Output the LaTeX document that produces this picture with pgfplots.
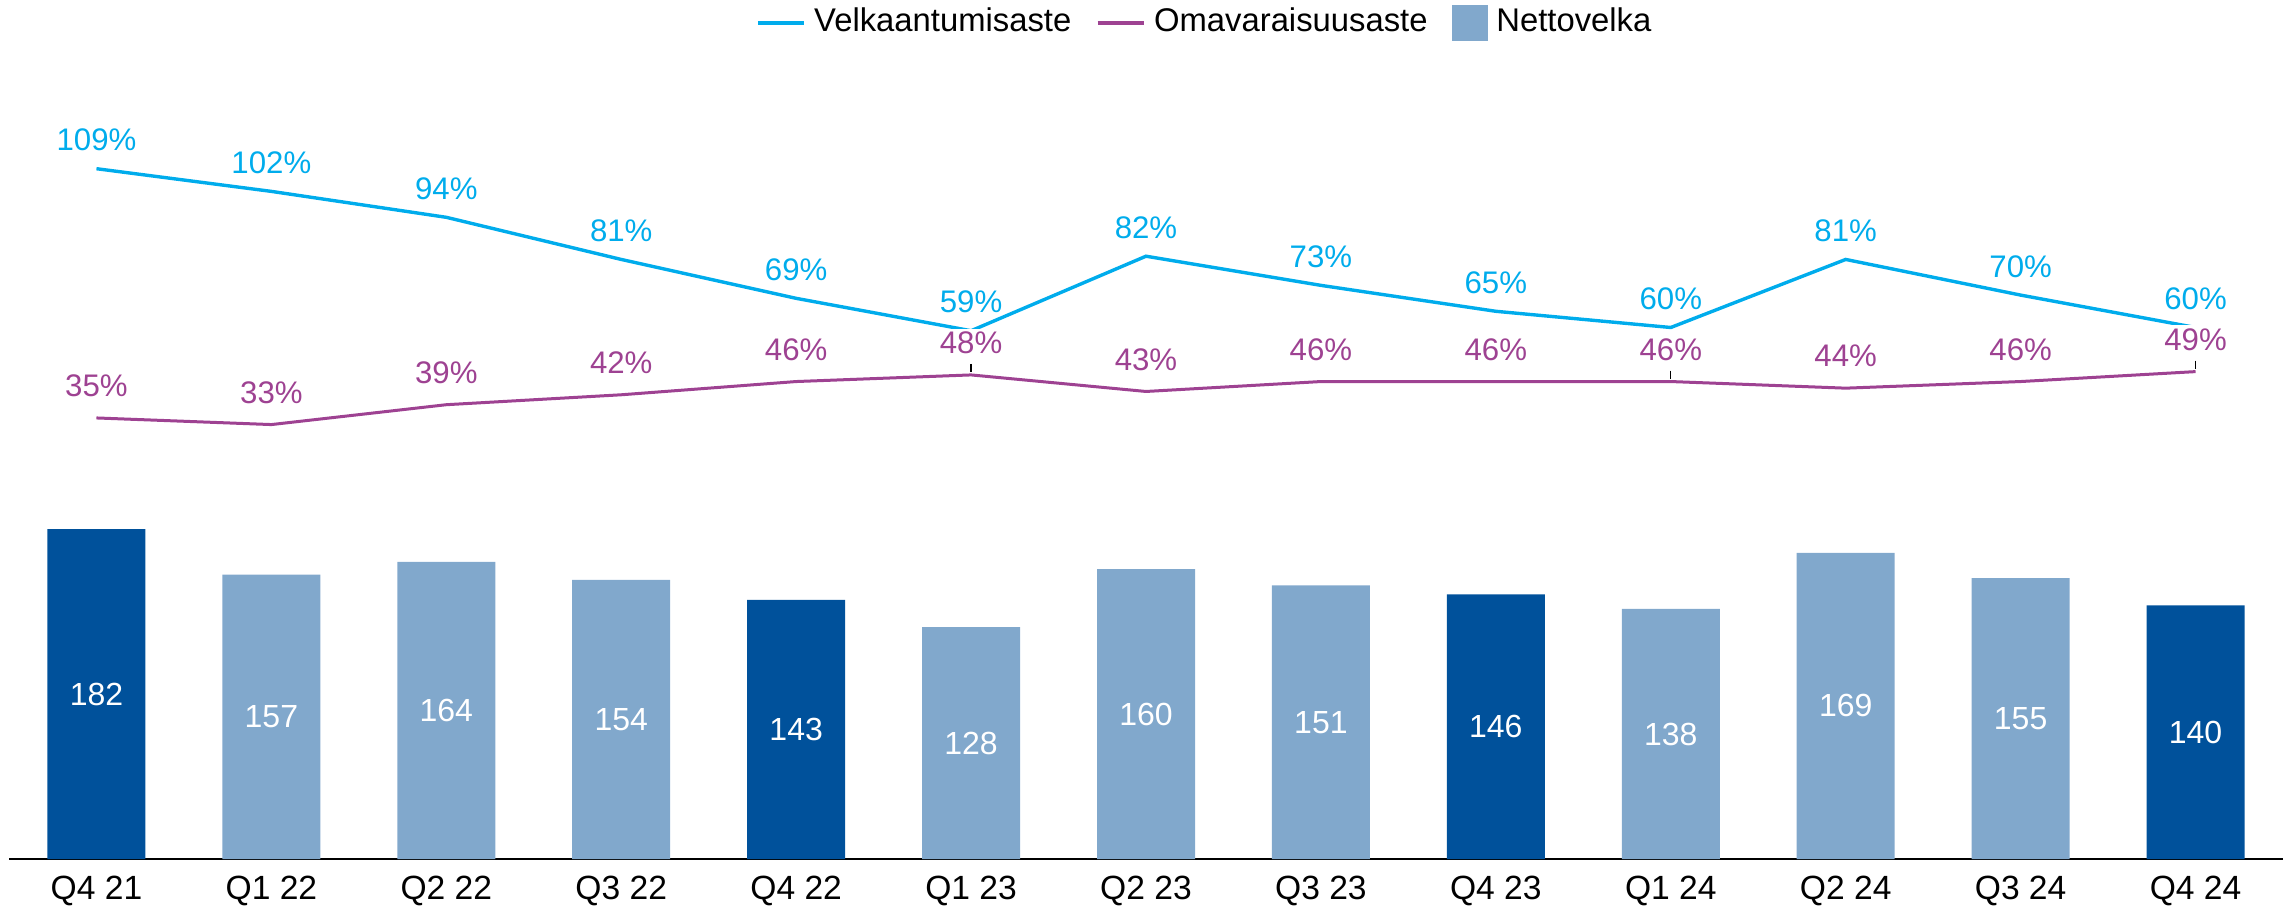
\documentclass[border=0pt]{standalone}
\usepackage{fontspec}
\setmainfont{Liberation Sans}
\usepackage{pgfplots}
\pgfplotsset{compat=1.18}
\usepackage{pgfplotstable}

\definecolor{velka}{RGB}{0,172,236}
\definecolor{omav}{RGB}{158,66,146}
\definecolor{netdark}{RGB}{0,81,155}
\definecolor{netlight}{RGB}{129,168,204}

\pgfplotstableread{
x v
0 182
1 157
2 164
3 154
4 143
5 128
6 160
7 151
8 146
9 138
10 169
11 155
12 140
}\netto

\pgfplotstableread{
x v
0 109
1 102
2 94
3 81
4 69
5 59
6 82
7 73
8 65
9 60
10 81
11 70
12 60
}\velkadata

\pgfplotstableread{
x v
0 35
1 33
2 39
3 42
4 46
5 48
6 43
7 46
8 46
9 46
10 44
11 46
12 49
}\omavdata

\pgfplotsset{
  /pgf/number format/assume math mode=true,
  base/.style={width=568.5pt, height=189.75pt, scale only axis,
    at={(2.25pt,13.75pt)}, anchor=south west, xmin=-0.5, xmax=12.5, clip=false},
  pctlabel/.style={only marks, mark=none, draw=none,
    nodes near coords={\pgfmathprintnumber{\pgfplotspointmeta}\%},
    point meta=explicit,
    every node near coord/.append style={anchor=base, yshift=4.5pt, inner sep=0pt,
      font=\fontsize{7.8}{9}\selectfont}},
}

\begin{document}
\begin{tikzpicture}
% bars
\begin{axis}[base, ymin=0, ymax=418.9,
  axis x line*=bottom, axis y line=none,
  x axis line style={black, line width=0.5pt},
  xtick={0,...,12},
  xticklabels={Q4 21,Q1 22,Q2 22,Q3 22,Q4 22,Q1 23,Q2 23,Q3 23,Q4 23,Q1 24,Q2 24,Q3 24,Q4 24},
  major tick length=0pt,
  xticklabel style={font=\fontsize{8.4}{10}\selectfont, anchor=base, yshift=-10pt},
]
\addplot[ybar, bar width=24.5pt, bar shift=0pt, fill=netdark, draw=none, forget plot]
  coordinates {(0,182) (4,143) (8,146) (12,140)};
\addplot[ybar, bar width=24.5pt, bar shift=0pt, fill=netlight, draw=none, forget plot]
  coordinates {(1,157) (2,164) (3,154) (5,128) (6,160) (7,151) (9,138) (10,169) (11,155)};
\addplot[only marks, mark=none, draw=none, forget plot,
  nodes near coords, point meta=explicit,
  every node near coord/.append style={anchor=center, text=white,
    font=\fontsize{8}{9.6}\selectfont}]
  table[x=x, y expr=\thisrow{v}/2, meta=v] {\netto};
\end{axis}

% Velkaantumisaste
\begin{axis}[base, hide axis, ymin=-104.0, ymax=130.2]
\addplot[velka, line width=0.85pt, mark=none, forget plot] table[x=x, y=v] {\velkadata};
\addplot[pctlabel, forget plot, every node near coord/.append style={text=velka}]
  table[x=x, y=v, meta=v] {\velkadata};
\end{axis}

% Omavaraisuusaste + legend
\begin{axis}[base, hide axis, ymin=-98.25, ymax=131.06,
  legend style={at={(0.527,1.1015)}, anchor=center, draw=none, fill=none,
    legend columns=-1, font=\fontsize{8.2}{9.5}\selectfont,
    /tikz/every even column/.append style={column sep=4pt}},
]
\addlegendimage{legend image code/.code={\draw[velka, line width=1.2pt] (0pt,0pt) -- (11.5pt,0pt);}}
\addlegendentry{Velkaantumisaste}
\addlegendimage{legend image code/.code={\draw[omav, line width=1.2pt] (0pt,0pt) -- (11.5pt,0pt);}}
\addlegendentry{Omavaraisuusaste}
\addlegendimage{legend image code/.code={\fill[netlight] (0pt,-4.4pt) rectangle (8.8pt,4.4pt);}}
\addlegendentry{Nettovelka}
\addplot[omav, line width=0.75pt, mark=none, forget plot] table[x=x, y=v] {\omavdata};
\addplot[pctlabel, forget plot, every node near coord/.append style={text=omav, fill=white, inner sep=0.8pt, yshift=0.8pt}]
  table[x=x, y=v, meta=v] {\omavdata};
\addplot[only marks, mark=|, mark size=1pt, forget plot,
  mark options={black, line width=0.35pt, yshift=1.75pt}]
  coordinates {(5,48) (9,46) (12,49)};
\end{axis}

\pgfresetboundingbox
\path[use as bounding box] (0pt,0pt) rectangle (573.75pt,228.5pt);
\end{tikzpicture}
\end{document}
